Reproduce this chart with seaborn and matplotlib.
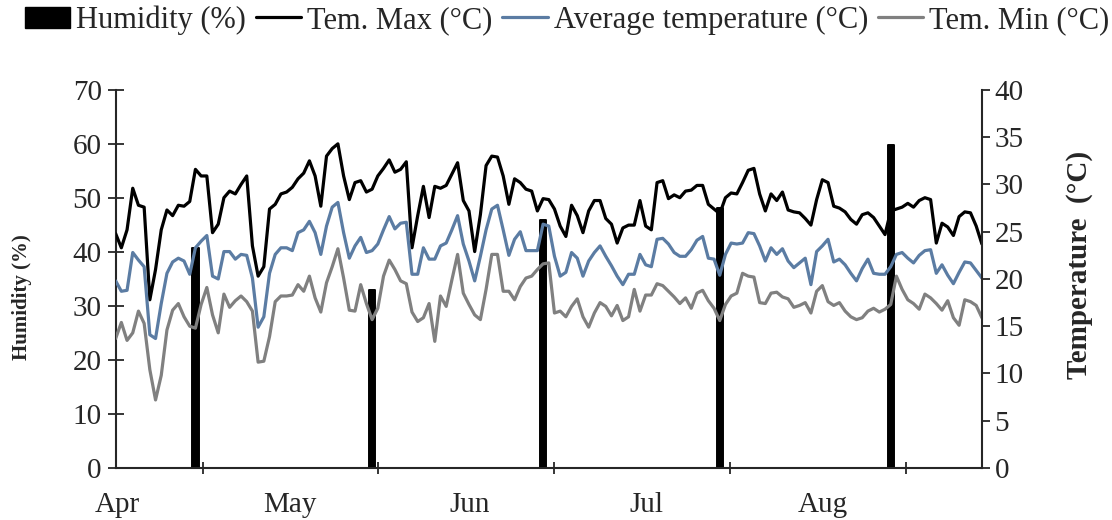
import numpy as np
import pandas as pd
import matplotlib
matplotlib.use('Agg')
import matplotlib.pyplot as plt
import seaborn as sns
from matplotlib.patches import Patch
from matplotlib.lines import Line2D
from matplotlib.ticker import FixedLocator, NullFormatter

# ---- data ----
dates = pd.date_range('2019-04-01', '2019-08-31', freq='D')

tem_max = [24.8, 23.3, 25.2, 29.6, 27.8, 27.6, 17.8, 21.0, 25.2, 27.3,
           26.7, 27.8, 27.7, 28.2, 31.6, 30.9, 30.9, 24.9, 25.8, 28.6,
           29.3, 29.0, 30.0, 30.9, 23.5, 20.3, 21.3, 27.4, 27.9, 29.0,
           29.2, 29.7, 30.6, 31.2, 32.5, 30.9, 27.7, 33.0, 33.8, 34.3,
           30.9, 28.4, 30.2, 30.4, 29.2, 29.5, 30.9, 31.7, 32.6, 31.3,
           31.6, 32.4, 23.3, 26.7, 29.8, 26.5, 29.8, 29.6, 29.9, 31.1,
           32.3, 28.3, 27.2, 22.9, 26.8, 32.0, 33.0, 32.9, 30.9, 27.9,
           30.6, 30.2, 29.5, 29.3, 27.2, 28.5, 28.4, 27.4, 25.6, 24.5,
           27.8, 26.7, 24.9, 27.2, 28.3, 28.3, 26.4, 25.8, 23.8, 25.4,
           25.7, 25.7, 28.3, 25.6, 25.2, 30.2, 30.4, 28.5, 28.9, 28.6,
           29.3, 29.4, 29.9, 29.9, 27.9, 27.4, 26.9, 28.6, 29.1, 29.0,
           30.2, 31.5, 31.7, 29.0, 27.2, 29.0, 28.3, 29.2, 27.3, 27.1,
           27.0, 26.4, 25.7, 28.4, 30.5, 30.2, 27.7, 27.5, 27.1, 26.3,
           25.8, 26.8, 27.0, 26.5, 25.6, 24.7, 27.2, 27.4, 27.6, 28.0,
           27.6, 28.3, 28.6, 28.4, 23.8, 25.9, 25.5, 24.6, 26.6, 27.1,
           27.0, 25.6, 23.7]

tem_avg = [19.8, 18.7, 18.8, 22.8, 22.0, 21.3, 14.1, 13.7, 17.4, 20.6,
           21.8, 22.2, 21.9, 20.5, 23.3, 24.0, 24.6, 20.3, 20.0, 22.9,
           22.9, 22.1, 22.6, 22.5, 20.1, 14.9, 16.0, 20.6, 22.6, 23.3,
           23.3, 23.0, 24.9, 25.2, 26.1, 24.9, 22.6, 25.6, 27.6, 28.1,
           24.9, 22.2, 23.5, 24.4, 22.8, 23.0, 23.7, 25.2, 26.6, 25.3,
           25.9, 26.0, 20.5, 20.5, 23.3, 22.1, 22.1, 23.5, 23.8, 25.2,
           26.7, 23.7, 21.9, 19.8, 22.4, 25.2, 27.4, 27.8, 25.2, 22.5,
           24.2, 25.0, 23.0, 23.0, 23.0, 25.8, 25.6, 22.4, 20.3, 20.7,
           22.8, 22.2, 20.3, 21.9, 22.8, 23.5, 22.4, 21.4, 20.3, 19.4,
           20.5, 20.5, 22.6, 21.5, 21.3, 24.2, 24.3, 23.7, 22.8, 22.4,
           22.4, 23.1, 24.1, 24.5, 22.2, 22.1, 20.4, 22.6, 23.8, 23.7,
           23.8, 24.9, 24.8, 23.5, 21.9, 23.3, 22.6, 23.2, 21.9, 21.2,
           21.7, 22.2, 19.4, 22.9, 23.5, 24.2, 21.8, 22.1, 21.5, 20.6,
           19.8, 21.1, 22.1, 20.6, 20.5, 20.5, 21.3, 22.6, 22.8, 22.2,
           21.7, 22.5, 23.0, 23.1, 20.6, 21.5, 20.4, 19.5, 20.7, 21.8,
           21.7, 20.9, 20.1]

tem_min = [13.7, 15.4, 13.5, 14.3, 16.6, 15.3, 10.4, 7.2, 9.8, 14.6,
           16.7, 17.4, 16.0, 15.0, 14.8, 17.3, 19.1, 16.2, 14.3, 18.4,
           17.0, 17.7, 18.2, 17.6, 16.6, 11.2, 11.3, 13.9, 17.6, 18.2,
           18.2, 18.3, 19.4, 18.7, 20.3, 18.0, 16.5, 19.6, 21.3, 23.2,
           20.1, 16.7, 16.6, 19.4, 17.4, 15.7, 16.9, 20.3, 22.0, 21.0,
           19.8, 19.5, 16.5, 15.5, 15.9, 17.4, 13.4, 18.2, 17.1, 19.9,
           22.6, 18.5, 17.3, 16.2, 15.7, 18.9, 22.6, 22.6, 18.7, 18.7,
           17.8, 19.2, 20.1, 20.3, 21.0, 21.6, 21.7, 16.4, 16.6, 16.0,
           17.1, 17.9, 16.0, 14.9, 16.4, 17.5, 17.1, 16.1, 17.2, 15.6,
           16.0, 18.9, 16.6, 18.3, 18.3, 19.5, 19.3, 18.7, 18.1, 17.4,
           18.0, 16.9, 18.5, 18.8, 17.7, 16.9, 15.6, 17.3, 18.2, 18.5,
           20.6, 20.3, 20.2, 17.5, 17.4, 18.5, 18.6, 18.1, 17.9, 17.0,
           17.2, 17.5, 16.4, 18.7, 19.3, 17.6, 17.2, 17.5, 16.6, 16.0,
           15.7, 15.9, 16.6, 16.9, 16.5, 16.8, 17.3, 20.3, 18.9, 17.8,
           17.4, 16.8, 18.4, 18.0, 17.4, 16.7, 17.7, 15.9, 15.1, 17.8,
           17.6, 17.2, 15.9]

humidity_dates = ['2019-04-15', '2019-05-16', '2019-06-15', '2019-07-16', '2019-08-15']
humidity = [40.7, 33.0, 46.0, 48.2, 59.8]

month_labels = ['Apr', 'May', 'Jun', 'Jul', 'Aug']

series_names = ['Tem. Max (°C)', 'Average temperature (°C)', 'Tem. Min (°C)']
series_colors = ['#000000', '#5b7ca3', '#808080']

# ---- build frames ----
start = dates[0]
day = (dates - start).days.values
hum_day = (pd.to_datetime(humidity_dates) - start).days.values

temp_df = pd.DataFrame({
    'day': np.concatenate([day, day, day]),
    'temp': np.concatenate([tem_max, tem_avg, tem_min]),
    'series': np.repeat(series_names, len(day)),
})
hum_df = pd.DataFrame({'day': hum_day, 'humidity': humidity})

# ---- style ----
sns.set_style('ticks')
plt.rcParams['font.family'] = ['Liberation Serif', 'DejaVu Serif']
plt.rcParams['axes.linewidth'] = 1.5

fig = plt.figure(figsize=(11.12, 5.2), dpi=100)
ax = fig.add_axes([0.104, 0.1, 0.779, 0.727])

sns.barplot(data=hum_df, x='day', y='humidity', native_scale=True,
            color='black', width=0.036, errorbar=None, ax=ax,
            edgecolor='black', linewidth=1.4, saturation=1)
for p in ax.patches:
    p.set_joinstyle('round')

ax2 = ax.twinx()
sns.lineplot(data=temp_df, x='day', y='temp', hue='series',
             palette=dict(zip(series_names, series_colors)),
             linewidth=2.3, sort=False, legend=False, ax=ax2)

xmax = day[-1]
ax.set_xlim(0, xmax)
ax2.set_xlim(0, xmax)
ax.set_ylim(0, 70)
ax2.set_ylim(0, 40)

# x axis: labels near month starts, unlabeled tick marks in between
ax.xaxis.set_major_locator(FixedLocator([0.3, 30.6, 62.2, 93.1, 124.0]))
ax.set_xticklabels(month_labels)
ax.xaxis.set_minor_locator(FixedLocator([15.3, 46.1, 77.0, 107.8, 138.7]))
ax.xaxis.set_minor_formatter(NullFormatter())
ax.tick_params(axis='x', which='major', length=0, pad=17, labelsize=21)
ax.tick_params(axis='x', which='minor', direction='inout', length=9, width=1.3)

ax.set_yticks(range(0, 71, 10))
ax.tick_params(axis='y', direction='inout', length=12, width=1.3, labelsize=21, pad=4)
ax2.set_yticks(range(0, 41, 5))
ax2.tick_params(axis='y', direction='out', length=6, width=1.3, labelsize=21, pad=3)

ax.set_xlabel('')
ax.set_ylabel('Humidity (%)', fontsize=15, fontweight='bold')
ax2.set_ylabel('Temperature  (°C)', fontsize=21, fontweight='bold')
ax.yaxis.set_label_coords(-0.097, 0.452)
ax2.yaxis.set_label_coords(1.097, 0.537)

for a in (ax, ax2):
    a.spines['top'].set_visible(False)
ax.spines['right'].set_visible(False)
ax2.spines['left'].set_visible(False)
ax2.spines['bottom'].set_visible(False)

handles = [Patch(facecolor='black', edgecolor='black', label='Humidity (%)')]
for name, col in zip(series_names, series_colors):
    handles.append(Line2D([], [], color=col, linewidth=2.3, label=name))
fig.legend(handles=handles, loc='upper center', bbox_to_anchor=(0.51, 0.992),
           ncol=4, frameon=False, fontsize=22, handlelength=1.5,
           handletextpad=0.2, columnspacing=0.3, borderaxespad=0.0,
           borderpad=0.05)

fig.savefig('out.png', dpi=100, facecolor='white')
